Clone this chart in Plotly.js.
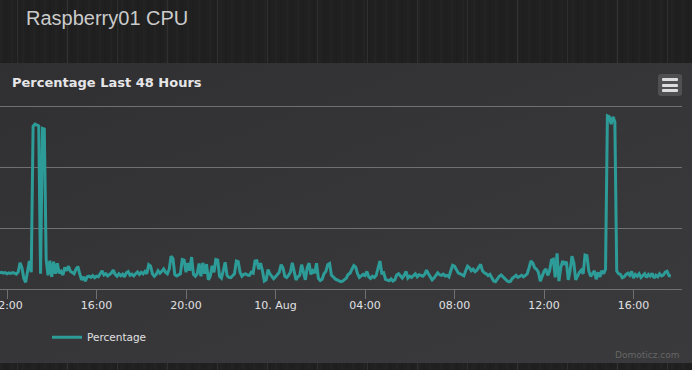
<!DOCTYPE html>
<html>
<head>
<meta charset="utf-8">
<script src="https://cdn.plot.ly/plotly-3.0.1.min.js"></script>
<style>
  html, body { margin:0; padding:0; }
  body {
    width:692px; height:370px; overflow:hidden; position:relative;
    background-color:#202020;
    background-image:
      repeating-linear-gradient(90deg, rgba(255,255,255,0.07) 0px, rgba(255,255,255,0.07) 1px, transparent 1px, transparent 50px),
      repeating-linear-gradient(90deg, rgba(255,255,255,0.015) 0px, rgba(255,255,255,0.015) 2px, transparent 2px, transparent 5px, rgba(0,0,0,0.06) 5px, rgba(0,0,0,0.06) 7px, transparent 7px, transparent 11px);
    background-position: 17px 0, 0 0;
  }
  #hdr {
    position:absolute; left:26px; top:8px;
    font-family:"Liberation Sans", Arial, sans-serif; font-size:20px; line-height:20px;
    color:#cbcbcb; white-space:nowrap;
  }
  #panel {
    position:absolute; left:0; top:63px; width:692px; height:300px;
    background: linear-gradient(160deg, #303032 0%, #363638 50%, #3a3a3c 100%);
  }
  #chart { position:absolute; left:0; top:63px; width:692px; height:300px; }
  #menu {
    position:absolute; left:658px; top:74px; width:24px; height:22px;
    background:#505053; border-radius:3px;
  }
  #menu span {
    position:absolute; left:4px; width:16px; height:3px; background:#dddddd; border-radius:1px;
  }
</style>
</head>
<body>
<div id="hdr">Raspberry01 CPU</div>
<div id="panel"></div>
<div id="chart"></div>
<div id="menu"><span style="top:4px"></span><span style="top:9.5px"></span><span style="top:15px"></span></div>
<script>
// ---- data ----
const seriesName = "Percentage";
const chartTitle = "Percentage Last 48 Hours";
const startTime = "2015-08-09T11:40:00Z";   // first sample
const stepMinutes = 5;                        // sample interval
const percentage = [
  5.3, 5.5, 5.2, 5.4, 5.0, 5.3, 5.1, 5.4, 5.2, 4.9, 5.6, 8.6,
  7.0, 3.5, 2.2, 6.0, 9.2, 5.5, 53.5, 54.2, 54.0, 53.6, 5.0, 52.8,
  52.6, 9.7, 4.5, 9.3, 4.0, 9.0, 5.0, 8.5, 5.2, 5.8, 4.6, 7.1,
  6.0, 7.5, 5.8, 5.3, 5.0, 6.5, 7.4, 5.0, 3.0, 4.0, 2.6, 4.0,
  4.2, 3.8, 4.4, 3.7, 4.2, 4.0, 5.0, 6.0, 4.6, 5.0, 4.3, 4.8,
  5.3, 6.2, 4.8, 4.2, 5.0, 4.4, 4.9, 4.0, 5.3, 5.7, 4.5, 4.9,
  4.3, 5.0, 5.6, 4.8, 5.5, 5.0, 5.8, 5.0, 8.0, 7.5, 5.0, 4.2,
  4.8, 6.0, 5.2, 5.8, 6.6, 5.5, 5.0, 6.5, 10.8, 10.0, 4.7, 4.3,
  4.6, 5.0, 9.7, 9.5, 5.5, 8.5, 6.0, 10.5, 4.8, 4.2, 5.0, 8.4,
  4.2, 8.6, 5.0, 8.2, 3.0, 4.2, 7.6, 5.5, 9.7, 9.5, 4.2, 3.6,
  6.0, 8.8, 4.5, 3.8, 3.7, 4.5, 5.0, 9.2, 9.0, 5.5, 4.2, 4.8,
  5.0, 4.6, 4.5, 5.5, 5.2, 9.2, 9.3, 6.5, 8.5, 6.0, 2.6, 3.0,
  6.4, 5.0, 4.0, 3.4, 4.0, 4.6, 5.5, 8.0, 7.0, 4.2, 3.8, 4.5,
  5.5, 8.6, 6.0, 3.0, 4.0, 4.5, 8.0, 5.0, 3.0, 7.0, 8.5, 4.8,
  6.0, 5.2, 8.5, 3.5, 2.8, 3.2, 5.0, 5.8, 8.0, 8.4, 4.5, 4.0,
  3.3, 3.0, 2.8, 2.4, 2.6, 3.0, 3.6, 4.8, 5.2, 6.5, 7.7, 7.2,
  5.0, 3.8, 4.3, 4.8, 4.4, 5.8, 4.0, 3.5, 4.2, 3.8, 4.5, 6.8,
  9.2, 5.2, 5.4, 3.2, 3.0, 2.7, 3.3, 2.6, 3.0, 4.6, 5.0, 4.2,
  3.6, 4.5, 5.8, 3.6, 4.2, 3.8, 4.6, 5.0, 4.0, 4.7, 4.5, 4.2,
  4.8, 6.2, 5.0, 3.8, 3.0, 3.6, 4.6, 5.3, 4.7, 4.5, 4.9, 4.3,
  4.5, 4.0, 6.0, 7.8, 7.5, 6.5, 5.3, 5.0, 4.6, 4.3, 6.0, 7.5,
  7.0, 6.0, 6.5, 5.7, 6.2, 7.0, 8.1, 6.0, 5.3, 5.0, 4.4, 4.8,
  3.7, 2.6, 2.4, 3.5, 4.2, 4.6, 3.8, 3.4, 2.8, 2.4, 2.5, 3.5,
  4.0, 4.5, 3.8, 4.2, 4.5, 4.0, 4.6, 5.0, 7.0, 9.2, 8.5, 7.0,
  6.5, 5.5, 2.6, 4.5, 5.8, 6.6, 4.5, 6.0, 9.5, 9.8, 3.8, 11.7,
  2.6, 7.0, 9.2, 8.0, 9.0, 3.0, 6.0, 10.8, 8.5, 3.0, 4.3, 5.5,
  6.2, 5.0, 11.2, 11.0, 6.0, 4.2, 5.0, 6.0, 3.2, 5.5, 4.0, 6.0,
  5.0, 6.5, 56.9, 56.6, 54.2, 56.6, 55.0, 5.9, 5.0, 4.8, 3.7, 4.0,
  4.8, 5.2, 4.5, 5.8, 3.6, 4.8, 4.2, 5.0, 3.8, 4.6, 5.0, 3.8,
  4.8, 4.2, 5.2, 3.6, 4.5, 4.0, 5.0, 4.3, 4.6, 5.5, 5.8, 4.4, 4.2
];
const tickVals = ["2015-08-09 12:00", "2015-08-09 16:00", "2015-08-09 20:00", "2015-08-10 00:00",
                  "2015-08-10 04:00", "2015-08-10 08:00", "2015-08-10 12:00", "2015-08-10 16:00"];
const tickText = ["12:00", "16:00", "20:00", "10. Aug", "04:00", "08:00", "12:00", "16:00"];
const xRange = ["2015-08-09 11:41:14", "2015-08-10 18:10:02"];
const yRange = [0, 60.5];
const yGridStep = 20;
const creditText = "Domoticz.com";

// timestamps for samples
const t0 = Date.parse(startTime);
const times = percentage.map((_, i) =>
  new Date(t0 + i * stepMinutes * 60000).toISOString().slice(0, 19).replace("T", " "));

const trace = {
  type: "scatter", mode: "lines", name: seriesName,
  x: times, y: percentage,
  line: { color: "#2d9c98", width: 3 },
  showlegend: true, hoverinfo: "x+y"
};

const layout = {
  width: 692, height: 300,
  margin: { l: 0, r: 10, t: 42, b: 74 },
  paper_bgcolor: "rgba(0,0,0,0)", plot_bgcolor: "rgba(0,0,0,0)",
  font: { family: "DejaVu Sans, sans-serif", color: "#E0E0E3", size: 11 },
  title: {
    text: chartTitle, xref: "container", yref: "container",
    x: 12/692, xanchor: "left", y: 1 - 19/300, yanchor: "middle",
    font: { family: "DejaVu Sans, sans-serif", size: 13, weight: 700, color: "#E6E6E8" }
  },
  xaxis: {
    type: "date", range: xRange, automargin: false,
    tickvals: tickVals, ticktext: tickText, ticklabeloverflow: "allow",
    showgrid: false, zeroline: false,
    showline: true, linecolor: "#707073", linewidth: 1,
    ticks: "outside", ticklen: 9, tickcolor: "#707073", tickwidth: 1,
    ticklabelstandoff: -3,
    tickfont: { family: "DejaVu Sans, sans-serif", size: 11, color: "#E0E0E3" }
  },
  yaxis: {
    range: yRange, dtick: yGridStep, tick0: 0, automargin: false,
    showticklabels: false, ticks: "",
    showgrid: true, gridcolor: "#707073", gridwidth: 1,
    zeroline: false, showline: false
  },
  showlegend: true,
  legend: {
    orientation: "h", x: 47/682, xanchor: "left", y: -0.262, yanchor: "middle",
    bgcolor: "rgba(0,0,0,0)", borderwidth: 0,
    font: { family: "DejaVu Sans, sans-serif", size: 10.5, color: "#E0E0E3" }
  },
  annotations: [{
    text: creditText, xref: "paper", yref: "paper", x: 1, y: -0.357,
    xanchor: "right", yanchor: "middle", showarrow: false,
    font: { family: "DejaVu Sans, sans-serif", size: 9, color: "#666666" }
  }]
};

Plotly.newPlot("chart", [trace], layout, { displayModeBar: false, staticPlot: true });
</script>
</body>
</html>
